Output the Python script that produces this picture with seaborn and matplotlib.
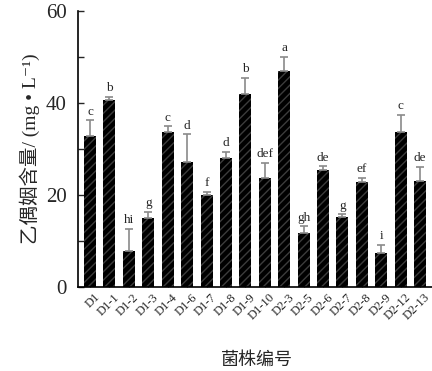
import matplotlib
matplotlib.use("Agg")
import matplotlib.pyplot as plt
import matplotlib.transforms as mtransforms
import seaborn as sns
import pandas as pd
import numpy as np

strains = ["D1", "D1-1", "D1-2", "D1-3", "D1-4", "D1-6", "D1-7", "D1-8", "D1-9",
           "D1-10", "D2-3", "D2-5", "D2-6", "D2-7", "D2-8", "D2-9", "D2-12", "D2-13"]
means = [32.8, 40.7, 7.9, 14.9, 33.7, 27.2, 20.0, 28.1, 41.9,
         23.8, 47.0, 11.7, 25.4, 15.2, 22.8, 7.3, 33.7, 23.1]
errors = [3.4, 0.7, 4.8, 1.5, 1.2, 6.0, 0.6, 1.2, 3.6,
          3.1, 3.1, 1.5, 0.8, 0.6, 1.0, 1.8, 3.7, 3.0]
letters = ["c", "b", "hi", "g", "c", "d", "f", "d", "b",
           "def", "a", "gh", "de", "g", "ef", "i", "c", "de"]

sns.set_theme(style="ticks")
plt.rcParams['font.family'] = ['Liberation Serif', 'Noto Sans CJK SC', 'DejaVu Sans']
plt.rcParams['hatch.linewidth'] = 1.0

df = pd.DataFrame({"strain": strains, "value": means})

fig = plt.figure(figsize=(4.32, 3.71), dpi=100)
ax = fig.add_axes([0.1806, 0.2264, 0.83, 0.744])

sns.barplot(data=df, x="strain", y="value", color="black", width=0.62,
            errorbar=None, ax=ax, saturation=1)
for p in ax.patches:
    p.set_facecolor("black")
    p.set_edgecolor("#3c3c3c")
    p.set_linewidth(0)
    p.set_hatch("////")

x = np.arange(len(strains))
ax.errorbar(x, means, yerr=[np.zeros(len(errors)), errors], fmt="none",
            ecolor="#8a8a8a", elinewidth=1.2, capsize=2.6, capthick=1.2)

for xi, m, e, lab in zip(x, means, errors, letters):
    ax.text(xi, m + e + 0.6, lab, ha="center", va="bottom", fontsize=9.5,
            family=['Liberation Serif'])

ax.set_xlim(-0.62, 17.85)
ax.set_ylim(0, 60)
ax.set_yticks([0, 20, 40, 60])
ax.set_yticks([10, 30, 50], minor=True)
ax.tick_params(axis="y", which="major", direction="in", length=4, width=1, labelsize=15, pad=8)
ax.tick_params(axis="y", which="minor", direction="in", length=4, width=1)
ax.tick_params(axis="x", which="major", direction="in", length=3, width=0.8, labelsize=9, pad=3)
offset = mtransforms.ScaledTranslation(4 / 100, 0, fig.dpi_scale_trans)
for lbl in ax.get_xticklabels():
    lbl.set_rotation(45)
    lbl.set_ha("right")
    lbl.set_rotation_mode("anchor")
    lbl.set_transform(lbl.get_transform() + offset)

for s in ["top", "right"]:
    ax.spines[s].set_visible(False)
for s in ["left", "bottom"]:
    ax.spines[s].set_linewidth(1.2)
    ax.spines[s].set_color("black")

ax.set_ylabel("乙偶姻含量/ (mg \u2022 L\u207b\u00b9)", fontsize=14, labelpad=4)
ax.set_xlabel("菌株编号", fontsize=13, labelpad=21)

fig.savefig("out.png", dpi=100)
